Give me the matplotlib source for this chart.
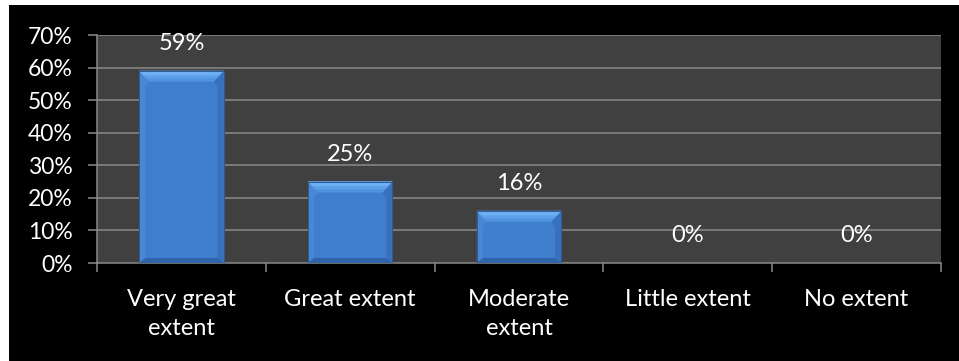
import numpy as np
import matplotlib.pyplot as plt
from matplotlib.patches import Polygon, Rectangle
from matplotlib.ticker import PercentFormatter

# survey responses, share of respondents
categories = ['Very great\nextent', 'Great extent', 'Moderate\nextent',
              'Little extent', 'No extent']
shares = [59, 25, 16, 0, 0]
y_ticks = [0, 10, 20, 30, 40, 50, 60, 70]

plt.rcParams['font.family'] = ['Lato', 'DejaVu Sans']

fig = plt.figure(figsize=(9.59, 3.61), dpi=100, facecolor='white')
# black chart area, leaving a thin white margin on top and left
fig.add_artist(Rectangle((9 / 959, 0), 1, 1 - 5 / 361, transform=fig.transFigure,
                         facecolor='black', edgecolor='none', zorder=-10))

ax = fig.add_axes([97 / 959, (361 - 263) / 361, (941 - 97) / 959, (263 - 35) / 361])
ax.set_facecolor('#404040')

x = np.arange(len(categories))
bar_w = 0.5
ax.set_xlim(-0.5, len(categories) - 0.5)
ax.set_ylim(0, 70)

grid_c = '#8a8a8a'
for v in y_ticks[1:]:
    ax.axhline(v, color=grid_c, lw=1.1, zorder=1)

face = '#3f7ecd'
bars = ax.bar(x, shares, width=bar_w, color=face, edgecolor='#2f5f9c', lw=0.6, zorder=3)

# bevel sizes in pixels converted to data units
fig.canvas.draw()
bbox = ax.get_window_extent()
px_x = 1.0 / (bbox.width / (ax.get_xlim()[1] - ax.get_xlim()[0]))
px_y = 1.0 / (bbox.height / (ax.get_ylim()[1] - ax.get_ylim()[0]))
bx, by = 10 * px_x, 11 * px_y
sx, sy = 6 * px_x, 5 * px_y


def facet(pts, color):
    ax.add_patch(Polygon(pts, closed=True, facecolor=color, edgecolor='none', zorder=4))


for xi, val in zip(x, shares):
    if val <= 0:
        continue
    l, r = xi - bar_w / 2, xi + bar_w / 2
    t, b = val, 0
    # left and right facets
    facet([(l, t), (l + bx, t - by), (l + sx, t - by - sy), (l + sx, b + sy), (l, b)], '#4787d4')
    facet([(r, t), (r - bx, t - by), (r - sx, t - by - sy), (r - sx, b + sy), (r, b)], '#3770bc')
    # bottom facet
    facet([(l, b), (r, b), (r - sx, b + sy), (l + sx, b + sy)], '#3063a8')
    # top facet, lighter towards the upper edge
    for frac, col in [(1.0, '#4f92e0'), (0.7, '#5da0ea'), (0.4, '#6eafF2')]:
        facet([(l, t), (r, t), (r - bx * frac, t - by * frac), (l + bx * frac, t - by * frac)], col)
    ax.add_patch(Rectangle((l, b), bar_w, val, facecolor='none',
                           edgecolor='#2c5a94', lw=0.7, zorder=5))

for xi, val in zip(x, shares):
    ax.annotate(f'{val}%', (xi, val), xytext=(0, 19.5), textcoords='offset points',
                ha='center', va='center', color='white', fontsize=17, zorder=6)

ax.set_yticks(y_ticks)
ax.yaxis.set_major_formatter(PercentFormatter(decimals=0))
ax.set_xticks(np.arange(len(categories) + 1) - 0.5)
ax.set_xticklabels([])
ax.set_xticks(x, minor=True)
ax.set_xticklabels(categories, minor=True)

ax.tick_params(axis='y', colors=grid_c, labelcolor='white', labelsize=16.5,
               length=6.5, width=1.1, pad=11)
ax.tick_params(axis='x', which='major', colors=grid_c, length=6.5, width=1.1)
ax.tick_params(axis='x', which='minor', length=0, labelcolor='white',
               labelsize=17, pad=19)
for lbl in ax.get_xticklabels(minor=True):
    lbl.set_linespacing(1.45)

for side in ['top', 'right']:
    ax.spines[side].set_visible(False)
for side in ['left', 'bottom']:
    ax.spines[side].set_color(grid_c)
    ax.spines[side].set_linewidth(1.1)
    ax.spines[side].set_zorder(2)

fig.savefig('out.png', dpi=100, facecolor=fig.get_facecolor())
